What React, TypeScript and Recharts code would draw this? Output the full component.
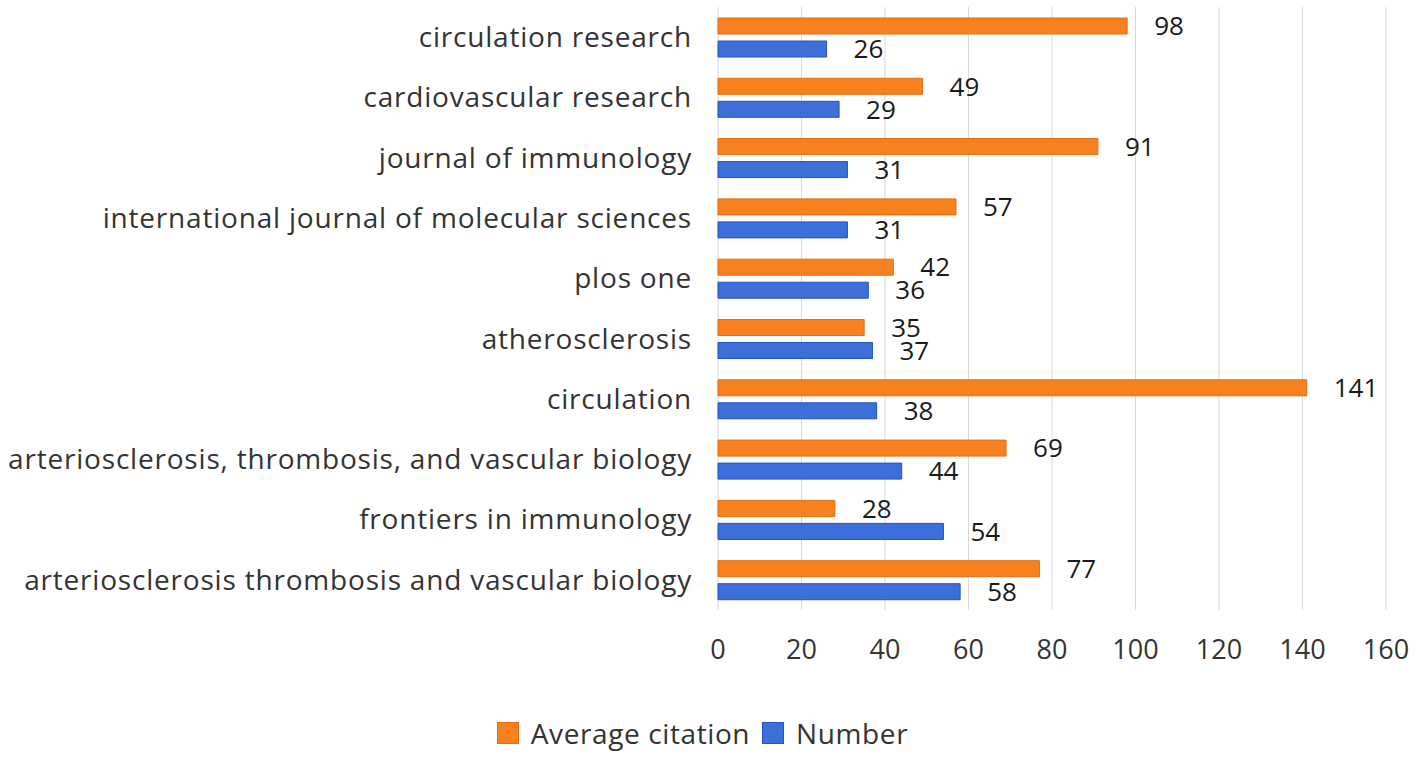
import { BarChart, Bar, XAxis, YAxis, CartesianGrid, LabelList } from 'recharts';

const journals = [
  'circulation research',
  'cardiovascular research',
  'journal of immunology',
  'international journal of molecular sciences',
  'plos one',
  'atherosclerosis',
  'circulation',
  'arteriosclerosis, thrombosis, and vascular biology',
  'frontiers in immunology',
  'arteriosclerosis thrombosis and vascular biology',
];
const averageCitation = [98, 49, 91, 57, 42, 35, 141, 69, 28, 77];
const numberOfPapers = [26, 29, 31, 31, 36, 37, 38, 44, 54, 58];
const xTicks = [0, 20, 40, 60, 80, 100, 120, 140, 160];

const data = journals.map((name, i) => ({
  name,
  avg: averageCitation[i],
  num: numberOfPapers[i],
}));

const FONT = '"Open Sans", "Noto Sans", sans-serif';
const ORANGE = '#F7811F';
const BLUE = '#3C6FD8';

const legendItems = [
  { label: 'Average citation', color: ORANGE, border: '#E26F12' },
  { label: 'Number', color: BLUE, border: '#2452C2' },
];

// legend drawn outside the chart so it doesn't eat into the plot area
function ChartLegend() {
  return (
    <div
      style={{
        position: 'absolute',
        left: 0,
        top: 714,
        width: 1417,
        display: 'flex',
        justifyContent: 'center',
        alignItems: 'center',
        fontFamily: FONT,
        fontSize: 28,
        letterSpacing: 0.6,
        color: '#333',
      }}
    >
      {legendItems.map((it) => (
        <span key={it.label} style={{ display: 'inline-flex', alignItems: 'center', marginRight: 12 }}>
          <span style={{ width: 20, height: 20, background: it.color, border: `1px solid ${it.border}`, marginRight: 12 }} />
          {it.label}
        </span>
      ))}
    </div>
  );
}

export default function App() {
  return (
    <div style={{ position: 'absolute', left: 0, top: 0, width: 1417, height: 765, background: '#fff' }}>
      <BarChart
        width={1417}
        height={765}
        data={data}
        layout="vertical"
        margin={{ top: 7, right: 31, left: 0, bottom: 85 }}
        barSize={16}
        barGap={7}
      >
        <CartesianGrid vertical horizontal={false} stroke="#d9d9d9" />
        <XAxis
          type="number"
          domain={[0, 160]}
          ticks={xTicks}
          axisLine={false}
          tickLine={false}
          tickMargin={24}
          height={70}
          tick={{ fill: '#333', fontSize: 27, fontFamily: FONT }}
        />
        <YAxis
          type="category"
          dataKey="name"
          width={718}
          axisLine={false}
          tickLine={false}
          tickMargin={20}
          interval={0}
          tick={{ fill: '#333', fontSize: 28, fontFamily: FONT, letterSpacing: 0.8 }}
        />
        <Bar dataKey="avg" name="Average citation" fill={ORANGE} stroke="#E26F12" strokeWidth={1} isAnimationActive={false}>
          <LabelList dataKey="avg" position="right" offset={27} fill="#1a1a1a" fontSize={26} fontFamily={FONT} />
        </Bar>
        <Bar dataKey="num" name="Number" fill={BLUE} stroke="#2452C2" strokeWidth={1} isAnimationActive={false}>
          <LabelList dataKey="num" position="right" offset={27} fill="#1a1a1a" fontSize={26} fontFamily={FONT} />
        </Bar>
      </BarChart>
      <ChartLegend />
    </div>
  );
}
